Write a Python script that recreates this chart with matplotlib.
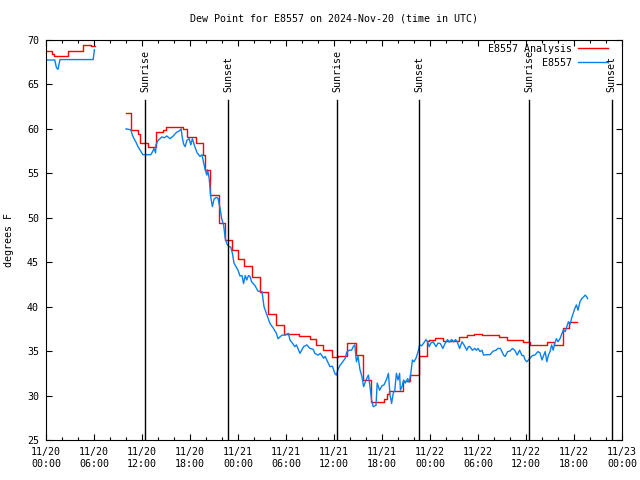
import numpy as np
import matplotlib
matplotlib.use("Agg")
import matplotlib.pyplot as plt
from matplotlib.ticker import MultipleLocator, FuncFormatter

plt.rcParams['font.family'] = ['DejaVu Sans Mono']
FS = 7.2

# hours since 2024-11-20 00:00 UTC ; nan breaks the line (data gap)
obs_hours = [0.0, 1.1, 1.3, 1.5, 1.75, 5.9, 6.05, np.nan,
             10.0, 10.6, 10.8, 11.0, 11.25, 11.5, 12.1, 13.1, 13.3, 13.5, 13.7, 13.75,
             14.0, 14.5, 14.8, 15.1, 15.5, 15.9, 16.3, 16.7, 16.9, 17.0, 17.2, 17.4,
             17.6, 17.9, 18.1, 18.3, 18.6, 18.9, 19.25, 19.5, 19.7, 19.9, 20.1, 20.2,
             20.4, 20.6, 20.8, 21.0, 21.3, 21.5, 21.75, 21.96, 22.2, 22.4, 22.6, 22.8,
             23.1, 23.3, 23.5, 23.75, 24.0, 24.25, 24.5, 24.7, 24.9, 25.1, 25.3, 25.5,
             25.7, 26.1, 26.5, 27.0, 27.25, 27.6, 28.0, 28.4, 28.8, 29.0, 29.5, 29.9,
             30.3, 30.5, 30.8, 31.1, 31.3, 31.75, 32.2, 32.6, 33.0, 33.4, 33.6, 34.0,
             34.3, 34.7, 34.9, 35.2, 35.5, 35.8, 36.1, 36.3, 36.5, 36.75, 37.1, 37.4,
             37.6, 37.9, 38.2, 38.4, 38.6, 38.8, 39.0, 39.25, 39.5, 39.7, 40.0, 40.3,
             40.5, 40.7, 40.9, 41.25, 41.4, 41.7, 42.0, 42.25, 42.6, 42.8, 43.0, 43.2,
             43.4, 43.6, 43.8, 44.0, 44.2, 44.3, 44.5, 44.7, 44.9, 45.2, 45.4, 45.6,
             45.8, 46.0, 46.25, 46.5, 46.7, 46.96, 47.25, 47.5, 47.7, 47.9, 48.1, 48.4,
             48.75, 49.0, 49.3, 49.6, 49.9, 50.2, 50.4, 50.7, 51.0, 51.2, 51.4, 51.7,
             52.0, 52.25, 52.6, 52.8, 53.0, 53.3, 53.6, 53.8, 54.0, 54.25, 54.5, 54.7,
             55.1, 55.5, 55.9, 56.25, 56.5, 56.8, 57.2, 57.4, 57.7, 58.0, 58.3, 58.6,
             58.9, 59.2, 59.5, 59.7, 59.9, 60.1, 60.3, 60.5, 60.8, 61.1, 61.5, 61.75,
             62.0, 62.2, 62.4, 62.6, 62.8, 63.0, 63.2, 63.4, 63.6, 63.8, 64.0, 64.25,
             64.5, 64.7, 64.9, 65.1, 65.3, 65.5, 65.7, 65.9, 66.1, 66.3, 66.5, 66.75,
             66.96, 67.2, 67.4, 67.6, 67.7]
obs_dewpt = [67.75, 67.75, 66.9, 66.7, 67.8, 67.8, 68.9, np.nan,
             60.0, 59.9, 59.3, 58.9, 58.5, 58.0, 57.1, 57.1, 57.4, 57.8, 57.3, 58.2,
             58.7, 59.1, 59.0, 59.2, 58.9, 59.2, 59.6, 59.8, 60.0, 59.2, 58.3, 58.0,
             58.7, 58.9, 58.2, 58.9, 58.0, 57.3, 56.9, 57.1, 56.2, 55.4, 54.8, 55.4,
             54.4, 52.3, 51.25, 52.1, 52.3, 52.2, 51.1, 49.9, 49.2, 47.7, 47.1, 46.8,
             46.7, 46.0, 44.9, 44.5, 44.1, 43.45, 43.5, 42.6, 43.5, 43.0, 43.5, 43.4,
             42.8, 42.4, 41.75, 41.7, 40.0, 39.1, 38.1, 37.6, 37.0, 36.4, 36.8, 36.8,
             37.0, 36.25, 35.9, 35.5, 35.7, 34.75, 35.5, 35.7, 35.3, 35.2, 34.75, 34.55,
             34.75, 34.2, 34.4, 33.8, 33.25, 33.3, 32.5, 32.3, 32.95, 33.4, 33.8, 34.2,
             34.9, 35.1, 35.1, 35.5, 35.7, 33.8, 34.4, 32.9, 32.1, 31.0, 31.75, 32.3,
             31.0, 29.5, 28.75, 28.9, 31.4, 30.6, 31.1, 31.2, 31.9, 32.5, 30.1, 29.1,
             30.25, 30.6, 32.5, 31.75, 32.5, 30.6, 31.0, 31.75, 31.4, 31.9, 31.5, 32.5,
             34.0, 33.8, 34.2, 34.9, 35.7, 35.6, 35.95, 36.3, 36.05, 35.5, 35.9, 36.05,
             35.5, 35.9, 35.85, 35.3, 35.9, 36.3, 36.0, 36.3, 36.05, 36.3, 36.05, 35.3,
             36.05, 35.7, 35.1, 35.5, 35.5, 35.1, 35.3, 35.1, 35.3, 34.95, 35.1, 34.55,
             34.6, 34.6, 35.0, 35.1, 35.3, 35.3, 34.55, 34.4, 34.95, 35.0, 35.3, 35.1,
             34.55, 35.1, 34.5, 34.5, 34.0, 33.8, 34.0, 34.2, 34.5, 34.55, 34.95, 34.8,
             34.0, 34.5, 34.95, 33.8, 34.55, 34.95, 35.7, 35.1, 35.9, 36.4, 36.05, 36.4,
             37.0, 37.4, 37.2, 37.75, 38.3, 38.0, 38.7, 39.25, 39.8, 40.2, 39.6, 40.55,
             40.9, 41.1, 41.3, 41.1, 40.9]

# analysis values, each holds until the next time (step plot)
ana_hours = [0.0, 0.7, 1.0, 2.7, 4.6, 5.6, 6.1, np.nan,
             10.0, 10.6, 11.5, 11.75, 12.75, 13.75, 14.6, 15.0, 17.1, 17.6, 18.75,
             19.6, 19.9, 20.5, 21.6, 22.4, 23.3, 24.0, 24.75, 25.75, 26.75, 27.75,
             28.75, 29.75, 31.6, 33.0, 33.75, 34.6, 35.75, 36.5, 37.6, 38.75, 39.6,
             40.6, 42.25, 42.6, 42.9, 44.6, 45.5, 46.6, 47.6, 47.9, 48.6, 49.6, 51.6,
             52.6, 53.5, 54.5, 56.6, 57.6, 59.6, 60.5, 62.6, 63.5, 64.6, 65.4, 66.4]
ana_dewpt = [68.8, 68.4, 68.2, 68.8, 69.4, 69.3, 69.3, np.nan,
             61.75, 59.9, 59.4, 58.4, 57.95, 59.6, 59.9, 60.2, 59.95, 59.05, 58.4,
             57.1, 55.4, 52.6, 49.4, 47.5, 46.4, 45.4, 44.6, 43.3, 41.6, 39.2,
             37.9, 36.9, 36.7, 36.4, 35.7, 35.1, 34.3, 34.5, 35.9, 34.55, 31.8,
             29.3, 29.6, 30.2, 30.5, 31.6, 32.3, 34.5, 36.1, 36.2, 36.45, 36.1, 36.55,
             36.8, 36.9, 36.8, 36.55, 36.3, 36.0, 35.7, 36.0, 35.7, 37.6, 38.3, 38.3]

sunrise_hours = [12.42, 36.42, 60.42]
sunset_hours = [22.8, 46.67, 70.7]


def hour_label(h, pos):
    day = 20 + int(h // 24)
    hh = int(h % 24)
    return "11/{:d}\n{:02d}:00".format(day, hh)


fig = plt.figure(figsize=(6.4, 4.8), dpi=100)
ax = fig.add_axes([46 / 640, 40 / 480, 576 / 640, 400 / 480])

ax.plot(ana_hours, ana_dewpt, color='#ff0000', lw=1.0, drawstyle='steps-post',
        label='E8557 Analysis')
ax.plot(obs_hours, obs_dewpt, color='#0a80f0', lw=1.0, label='E8557')

for h in sunrise_hours:
    ax.axvline(h, ymin=0, ymax=0.85, color='black', lw=1.0)
    ax.text(h, 0.87, "Sunrise", transform=ax.get_xaxis_transform(), rotation=90,
            ha='center', va='bottom', fontsize=FS)
for h in sunset_hours:
    ax.axvline(h, ymin=0, ymax=0.85, color='black', lw=1.0)
    ax.text(h, 0.87, "Sunset", transform=ax.get_xaxis_transform(), rotation=90,
            ha='center', va='bottom', fontsize=FS)

ax.set_xlim(0, 72)
ax.set_ylim(25, 70)
ax.xaxis.set_major_locator(MultipleLocator(6))
ax.xaxis.set_minor_locator(MultipleLocator(2))
ax.xaxis.set_major_formatter(FuncFormatter(hour_label))
ax.yaxis.set_major_locator(MultipleLocator(5))
ax.tick_params(which='both', direction='in', top=True, right=True, labelsize=FS, width=0.8)
ax.tick_params(which='major', length=4.5)
ax.tick_params(which='minor', length=2.5)
ax.tick_params(axis='x', pad=5)
ax.tick_params(axis='y', pad=5)
for s in ax.spines.values():
    s.set_linewidth(0.8)

ax.set_title("Dew Point for E8557 on 2024-Nov-20 (time in UTC)", fontsize=FS, pad=13)
ax.set_ylabel("degrees F", fontsize=FS)
ax.yaxis.set_label_coords(-0.055, 0.5)

ax.legend(loc='upper right', bbox_to_anchor=(1 - 10 / 576, 1), frameon=False,
          markerfirst=False, fontsize=FS, handlelength=3.0, handletextpad=0.6,
          labelspacing=0.4, borderaxespad=0.2, borderpad=0.2)

fig.savefig("out.png", dpi=100)
